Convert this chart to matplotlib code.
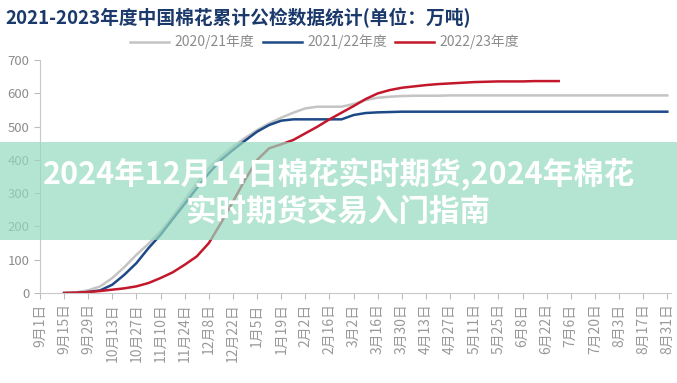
import numpy as np
import matplotlib
matplotlib.use('Agg')
import matplotlib.pyplot as plt
from matplotlib.patches import Rectangle

plt.rcParams['font.family'] = ['Noto Sans CJK SC', 'DejaVu Sans']

# weekly points from 9月1日 (week 0) to 8月31日 (week 52)
tick_labels = ['9月1日', '9月15日', '9月29日', '10月13日', '10月27日', '11月10日', '11月24日',
               '12月8日', '12月22日', '1月5日', '1月19日', '2月2日', '2月16日', '3月2日',
               '3月16日', '3月30日', '4月13日', '4月27日', '5月11日', '5月25日', '6月8日',
               '6月22日', '7月6日', '7月20日', '8月3日', '8月17日', '8月31日']

nan = np.nan
s2021 = [nan, nan, 0, 2, 8, 20, 45, 78, 115, 148, 185, 230, 280, 330, 375, 410, 440, 466,
         490, 510, 527, 542, 555, 560, 560, 560, 568, 580, 587, 590, 592, 593, 593, 593,
         594, 594, 594, 594, 594, 594, 594, 594, 594, 594, 594, 594, 594, 594, 594, 594,
         594, 594, 594]
s2122 = [nan, nan, 0, 0, 3, 8, 25, 55, 90, 135, 175, 222, 268, 315, 360, 400, 430, 458,
         485, 505, 518, 522, 522, 522, 522, 522, 535, 541, 543, 544, 545, 545, 545, 545,
         545, 545, 545, 545, 545, 545, 545, 545, 545, 545, 545, 545, 545, 545, 545, 545,
         545, 545, 545]
s2223 = [nan, nan, 0, 1, 3, 6, 10, 14, 20, 30, 45, 62, 85, 110, 150, 210, 275, 340,
         400, 435, 447, 460, 480, 500, 522, 542, 562, 583, 600, 610, 617, 621, 625, 628,
         630, 632, 634, 635, 636, 636, 636, 637, 637, 637]

weeks = np.arange(53)

fig = plt.figure(figsize=(6.77, 3.83), dpi=100)
ax = fig.add_axes([0.059, 0.235, 0.932, 0.608])

ax.plot(weeks, s2021, color='#c4c4c4', lw=1.8, label='2020/21年度')
ax.plot(weeks, s2122, color='#1d4a86', lw=1.8, label='2021/22年度')
ax.plot(weeks[:len(s2223)], s2223, color='#c3182b', lw=1.8, label='2022/23年度')

ax.set_xlim(0, 52.3)
ax.set_ylim(0, 700)
ax.set_yticks(np.arange(0, 701, 100))
ax.set_xticks(np.arange(0, 53, 2))
ax.set_xticklabels(tick_labels, rotation=90, va='top', ha='center')
ax.tick_params(axis='x', colors='#bdbdbd', labelcolor='#999999', labelsize=10, length=4)
ax.tick_params(axis='y', colors='#bdbdbd', labelcolor='#8c8c8c', labelsize=9.5, length=4)
for side in ['top', 'right']:
    ax.spines[side].set_visible(False)
for side in ['left', 'bottom']:
    ax.spines[side].set_color('#c8c8c8')

fig.text(0.008, 0.952, '2021-2023年度中国棉花累计公检数据统计(单位：万吨)',
         ha='left', va='center', fontsize=13.5, fontweight='bold', color='#1b3a6b')

fig.legend(loc='center', bbox_to_anchor=(0.48, 0.89), ncol=3, frameon=False,
           fontsize=10, handlelength=2.8, columnspacing=0.6, handletextpad=0.4,
           labelcolor='#8c8c8c')

# translucent banner across the chart
fig.add_artist(Rectangle((0, 0.373), 1, 0.256, transform=fig.transFigure,
                         facecolor=(0.586, 0.857, 0.757), alpha=0.7, edgecolor='none', zorder=5))
fig.text(0.5, 0.543, '2024年12月14日棉花实时期货,2024年棉花', ha='center', va='center',
         fontsize=22, fontweight='bold', color='white', zorder=6)
fig.text(0.5, 0.446, '实时期货交易入门指南', ha='center', va='center',
         fontsize=22, fontweight='bold', color='white', zorder=6)

fig.savefig('out.png', dpi=100)
